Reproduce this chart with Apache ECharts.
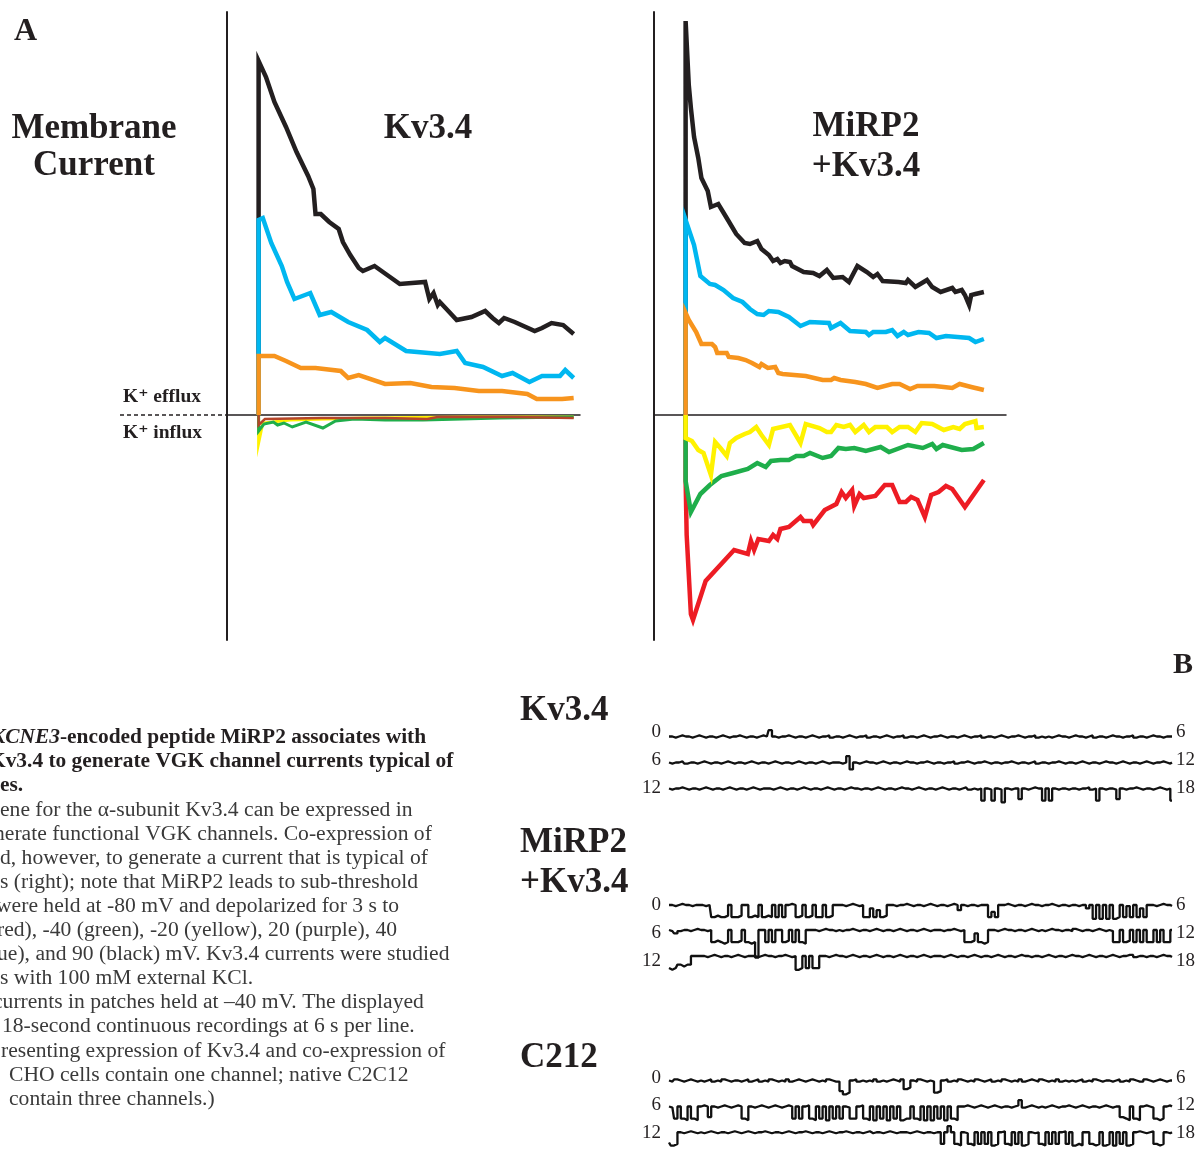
<!DOCTYPE html>
<html>
<head>
<meta charset="utf-8">
<title>MiRP2 / Kv3.4 currents</title>
<script src="https://cdn.jsdelivr.net/npm/echarts@6/dist/echarts.min.js"></script>
<style>
  html, body { margin: 0; padding: 0; background: #fff; }
  #chart { width: 1199px; height: 1150px; }
</style>
</head>
<body>
<div id="chart"></div>
<script>
// ---- panel A : whole-cell currents, [time (s), current (a.u.)] ----
// Kv3.4 alone
var kvBlack = [[0,0],[0,3.54],[0.07,3.38],[0.15,3.13],[0.26,2.88],[0.36,2.63],[0.47,2.39],[0.52,2.26],[0.54,2.01],[0.59,2.01],[0.67,1.93],[0.76,1.86],[0.80,1.73],[0.87,1.60],[0.95,1.47],[0.99,1.44],[1.10,1.49],[1.22,1.40],[1.34,1.31],[1.58,1.33],[1.62,1.16],[1.66,1.22],[1.70,1.10],[1.72,1.13],[1.80,1.04],[1.88,0.95],[2.02,0.98],[2.15,1.04],[2.22,0.97],[2.28,0.92],[2.33,0.97],[2.43,0.93],[2.62,0.84],[2.69,0.87],[2.78,0.92],[2.89,0.90],[2.99,0.81]];
var kvBlue = [[0,0],[0,1.95],[0.04,1.97],[0.12,1.72],[0.22,1.49],[0.27,1.33],[0.34,1.16],[0.49,1.22],[0.58,1.00],[0.69,1.03],[0.85,0.93],[1.03,0.85],[1.15,0.73],[1.20,0.77],[1.40,0.64],[1.72,0.61],[1.88,0.64],[1.96,0.52],[2.13,0.48],[2.31,0.39],[2.41,0.42],[2.57,0.33],[2.69,0.39],[2.86,0.39],[2.91,0.45],[2.99,0.37]];
var kvOrange = [[0,0],[0,0.59],[0.15,0.59],[0.26,0.54],[0.40,0.47],[0.54,0.47],[0.78,0.44],[0.85,0.37],[0.95,0.40],[1.20,0.31],[1.44,0.32],[1.64,0.28],[1.86,0.27],[2.09,0.24],[2.31,0.24],[2.55,0.21],[2.64,0.16],[2.88,0.16],[2.99,0.17]];
var kvYellow = [[0,0],[0,-0.28],[0.04,-0.08],[0.3,-0.05],[1.0,-0.03],[2.0,-0.02],[2.99,-0.02]];
var kvGreen = [[0,0],[0,-0.16],[0.05,-0.09],[0.14,-0.07],[0.18,-0.10],[0.24,-0.08],[0.32,-0.12],[0.45,-0.07],[0.61,-0.13],[0.73,-0.06],[0.91,-0.04],[1.20,-0.05],[1.56,-0.05],[1.93,-0.04],[2.29,-0.03],[2.99,-0.02]];
var kvRed = [[0,0],[0,-0.10],[0.06,-0.04],[0.6,-0.03],[1.2,-0.03],[1.6,-0.04],[1.7,-0.02],[2.4,-0.02],[2.99,-0.03]];

// MiRP2 + Kv3.4
var mBlack = [[0,0],[0,3.94],[0.03,3.30],[0.05,3.07],[0.08,2.78],[0.12,2.57],[0.15,2.37],[0.21,2.24],[0.24,2.08],[0.31,2.11],[0.39,1.97],[0.48,1.81],[0.56,1.72],[0.61,1.71],[0.68,1.74],[0.72,1.66],[0.79,1.60],[0.83,1.54],[0.87,1.56],[0.90,1.52],[0.94,1.54],[0.99,1.53],[1.01,1.49],[1.12,1.43],[1.21,1.42],[1.27,1.39],[1.34,1.45],[1.40,1.37],[1.49,1.38],[1.55,1.33],[1.63,1.49],[1.72,1.43],[1.78,1.38],[1.82,1.41],[1.87,1.34],[2.02,1.33],[2.09,1.32],[2.11,1.35],[2.18,1.28],[2.29,1.35],[2.34,1.28],[2.42,1.23],[2.53,1.27],[2.56,1.23],[2.62,1.25],[2.65,1.20],[2.69,1.10],[2.71,1.20],[2.75,1.21],[2.83,1.23]];
var mBlue = [[0,0],[0,1.95],[0.08,1.70],[0.14,1.39],[0.23,1.31],[0.28,1.30],[0.36,1.25],[0.45,1.17],[0.54,1.13],[0.61,1.06],[0.68,1.01],[0.74,1.00],[0.79,1.04],[0.88,1.03],[0.98,0.98],[1.09,0.89],[1.18,0.93],[1.36,0.92],[1.38,0.87],[1.47,0.92],[1.56,0.84],[1.71,0.83],[1.74,0.80],[1.78,0.83],[1.90,0.83],[1.96,0.85],[2.01,0.79],[2.07,0.83],[2.11,0.80],[2.21,0.83],[2.31,0.82],[2.38,0.77],[2.47,0.79],[2.58,0.78],[2.69,0.77],[2.75,0.73],[2.83,0.76]];
var mOrange = [[0,0],[0,1.02],[0.03,0.95],[0.10,0.83],[0.15,0.71],[0.25,0.71],[0.28,0.68],[0.30,0.62],[0.39,0.62],[0.41,0.58],[0.50,0.57],[0.57,0.55],[0.63,0.52],[0.70,0.48],[0.72,0.51],[0.78,0.47],[0.85,0.48],[0.88,0.42],[0.92,0.41],[1.14,0.39],[1.30,0.35],[1.38,0.35],[1.41,0.37],[1.47,0.35],[1.61,0.33],[1.71,0.31],[1.82,0.27],[1.96,0.31],[2.03,0.31],[2.13,0.26],[2.20,0.29],[2.36,0.29],[2.45,0.28],[2.53,0.27],[2.60,0.31],[2.71,0.28],[2.83,0.25]];
var mYellow = [[0,0],[0,-0.23],[0.06,-0.26],[0.12,-0.35],[0.17,-0.38],[0.24,-0.60],[0.28,-0.27],[0.33,-0.33],[0.39,-0.41],[0.42,-0.28],[0.48,-0.23],[0.56,-0.19],[0.61,-0.17],[0.67,-0.12],[0.72,-0.20],[0.79,-0.30],[0.83,-0.14],[0.99,-0.10],[1.09,-0.28],[1.14,-0.09],[1.27,-0.13],[1.34,-0.17],[1.38,-0.17],[1.43,-0.10],[1.50,-0.12],[1.56,-0.10],[1.61,-0.17],[1.69,-0.10],[1.74,-0.17],[1.80,-0.12],[1.91,-0.12],[1.96,-0.17],[2.03,-0.12],[2.11,-0.12],[2.18,-0.17],[2.24,-0.08],[2.34,-0.09],[2.45,-0.15],[2.54,-0.12],[2.60,-0.14],[2.65,-0.09],[2.75,-0.06],[2.76,-0.13],[2.83,-0.12]];
var mGreen = [[0,0],[0,-0.66],[0.05,-0.97],[0.14,-0.79],[0.23,-0.70],[0.34,-0.61],[0.45,-0.58],[0.59,-0.54],[0.68,-0.48],[0.76,-0.52],[0.81,-0.46],[0.90,-0.45],[0.98,-0.45],[1.05,-0.41],[1.12,-0.41],[1.18,-0.38],[1.30,-0.43],[1.38,-0.41],[1.45,-0.33],[1.52,-0.34],[1.60,-0.33],[1.71,-0.36],[1.85,-0.32],[1.93,-0.37],[2.11,-0.30],[2.25,-0.33],[2.34,-0.29],[2.38,-0.34],[2.44,-0.30],[2.62,-0.35],[2.73,-0.34],[2.83,-0.28]];
var mRed = [[0,0],[0,-0.65],[0.01,-1.20],[0.05,-1.99],[0.07,-2.05],[0.19,-1.66],[0.46,-1.35],[0.59,-1.39],[0.62,-1.26],[0.65,-1.35],[0.69,-1.24],[0.79,-1.26],[0.83,-1.20],[0.87,-1.24],[0.90,-1.14],[0.98,-1.12],[1.09,-1.02],[1.12,-1.06],[1.19,-1.06],[1.21,-1.10],[1.32,-0.95],[1.43,-0.89],[1.48,-0.77],[1.52,-0.83],[1.58,-0.75],[1.60,-0.91],[1.65,-0.79],[1.69,-0.83],[1.80,-0.81],[1.89,-0.70],[1.96,-0.70],[2.03,-0.87],[2.09,-0.87],[2.14,-0.82],[2.20,-0.85],[2.27,-1.02],[2.33,-0.80],[2.40,-0.77],[2.47,-0.71],[2.53,-0.74],[2.65,-0.92],[2.83,-0.65]];

// ---- panel B : single-channel records, 150 samples per 6 s line ----
// level codes: 1 = closed, 8 = open, 0/2 = noise around closed, x/u = spikes
var kvTraces = [
  '1121011210 1211210121 1012112101 u121101211 2101211021 1210121102 1121012110 2112101211 0121121012 1102112101 2110121102 1212101121 0112102112 1011211021 1210112111',
  '1211021121 0121121012 1121012112 1012112101 2112101211 121u512101 1210121121 0112110121 1211021101 2110121121 1012112102 1121101211 2101211210 1121012112 1012110121',
  '1211012112 1012112101 2112101211 1210121121 0121121012 1121011211 2101211210 1121012112 1012112102 1218128129 1211712101 1818121121 1211021812 1127121101 2112101218'
];
var mirpTraces = [
  '1121011211 1218788718 8711878187 8181810187 1871881871 1121012188 3848711211 0121121012 1121014121 1211185811 0121121011 2110121121 1211319191 9198182818 3811210112',
  '1232112101 1218789818 871898x118 1811871818 9111210112 1211012112 1012112101 2112101211 1211012188 7389811210 1121121012 1210112112 0121121012 1288187181 8188181881',
  '8986766111 1210121121 0121112101 1211012198 1818811210 1121012112 1012112101 2112101211 1210121121 0121121012 1121011211 2101211210 1121012112 1012110021 1211210112'
];
var c212Traces = [
  '1201210121 2102120121 1210210212 0121202101 2101212012 2798102121 2021210120 6512012128 7102120121 2012102120 1212021012 0121202121 2102120121 1210212012 2012101211',
  '1281891891 0171210121 0189121012 1012101818 1089181918 1812881089 1918191819 8818919191 8191891101 2101210121 1210u21012 1210121101 2101211210 1211789189 1012898101',
  '7981210121 2101211210 1210121101 2112101211 0121121012 1101211210 2112101211 1210121121 181u189128 9181819810 8918198121 8918181081 9891189819 8191819810 1210898121'
];
var lineStartLabels = ['0', '6', '12'];
var lineEndLabels = ['6', '12', '18'];

var captionLines = [
  '{i|KCNE3}-encoded peptide MiRP2 associates with',
  'Kv3.4 to generate VGK channel currents typical of',
  'es.',
  'ene for the α-subunit Kv3.4 can be expressed in',
  'nerate functional VGK channels. Co-expression of',
  'd, however, to generate a current that is typical of',
  's (right); note that MiRP2 leads to sub-threshold',
  'were held at -80 mV and depolarized for 3 s to',
  'red), -40 (green), -20 (yellow), 20 (purple), 40',
  'ue), and 90 (black) mV. Kv3.4 currents were studied',
  's with 100 mM external KCl.',
  'currents in patches held at –40 mV. The displayed',
  '18-second continuous recordings at 6 s per line.',
  'resenting expression of Kv3.4 and co-expression of',
  'CHO cells contain one channel; native C2C12',
  'contain three channels.)'
];
var captionShift = [-9, -11, 0, 0, -6, 0, 0, -4, -3, -3, 0, -7, 2, 1, 9, 9];

// code -> current level (unitary amplitude ~1.05)
var LEVELS = {'0': 0.09, '1': 0, '2': -0.09, '3': -0.3, '4': -0.45, '5': -0.6, '6': -0.75,
              '7': -0.92, '8': -1.05, '9': -1.2, 'x': -2.4, 'u': 0.55};
function parseTrace(str) {
  var s = str.replace(/ /g, '');
  var n = s.length;
  return s.split('').map(function (c, i) { return [i * 6 / (n - 1), LEVELS[c]]; });
}

var INK = '#231f20';
var SERIF = '"Liberation Serif", "DejaVu Serif", serif';

var chart = echarts.init(document.getElementById('chart'));

var grids = [
  { left: 227, top: 12, width: 353, height: 628 },
  { left: 654, top: 12, width: 352, height: 628 }
];
var xAxes = [], yAxes = [], series = [];

[3.05, 3.04].forEach(function (mx, gi) {
  xAxes.push({
    gridIndex: gi, type: 'value', min: -0.3, max: mx,
    axisLine: { show: true, onZero: true, lineStyle: { color: INK, width: 1.5 } },
    axisTick: { show: false }, axisLabel: { show: false }, splitLine: { show: false }
  });
  yAxes.push({
    gridIndex: gi, type: 'value', min: -2.25, max: 4.03,
    axisLine: { show: true, onZero: false, lineStyle: { color: INK, width: 2 } },
    axisTick: { show: false }, axisLabel: { show: false }, splitLine: { show: false }
  });
});

function aLine(data, color, gi, width) {
  return {
    type: 'line', xAxisIndex: gi, yAxisIndex: gi, data: data, symbol: 'none',
    clip: false, silent: true,
    lineStyle: { color: color, width: width || 4.5, join: 'miter' }
  };
}
series.push(aLine(kvBlack, INK, 0));
series.push(aLine(kvBlue, '#00b7f0', 0));
series.push(aLine(kvOrange, '#f7941d', 0));
series.push(aLine(kvYellow, '#fff200', 0, 3));
series.push(aLine(kvGreen, '#1fae4b', 0, 3));
series.push(aLine(kvRed, '#b5452a', 0, 2.5));

series.push(aLine(mBlack, INK, 1));
series.push(aLine(mBlue, '#00b7f0', 1));
series.push(aLine(mOrange, '#f7941d', 1));
series.push(aLine(mRed, '#ed1c24', 1));
series.push(aLine(mGreen, '#1fae4b', 1));
series.push(aLine(mYellow, '#fff200', 1));

// single-channel lines
var traceBase = [736.5, 762.5, 788.5, 905, 930, 956, 1080.5, 1106.5, 1132.5];
var allTraces = kvTraces.concat(mirpTraces, c212Traces);
allTraces.forEach(function (str, k) {
  var gi = grids.length;
  grids.push({ left: 669, top: traceBase[k] - 6.9, width: 503, height: 25.3 });
  xAxes.push({ gridIndex: gi, type: 'value', min: 0, max: 6, show: false });
  yAxes.push({ gridIndex: gi, type: 'value', min: -1.6, max: 0.6, show: false });
  series.push({
    type: 'line', xAxisIndex: gi, yAxisIndex: gi, data: parseTrace(str),
    symbol: 'none', step: 'middle', clip: false, silent: true,
    lineStyle: { color: '#111111', width: 2.3 }
  });
});

function txt(x, y, text, font, align, fill) {
  return {
    type: 'text', silent: true,
    style: {
      x: x, y: y, text: text, font: font, fill: fill || INK,
      textAlign: align || 'left', textVerticalAlign: 'middle'
    }
  };
}

var graphics = [
  txt(14, 32, 'A', 'bold 32px ' + SERIF),
  txt(94, 129, 'Membrane', 'bold 35px ' + SERIF, 'center'),
  txt(94, 166, 'Current', 'bold 35px ' + SERIF, 'center'),
  txt(428, 129, 'Kv3.4', 'bold 35px ' + SERIF, 'center'),
  txt(866, 127, 'MiRP2', 'bold 35px ' + SERIF, 'center'),
  txt(866, 167, '+Kv3.4', 'bold 35px ' + SERIF, 'center'),
  txt(123, 397, 'K⁺ efflux', 'bold 19.5px ' + SERIF),
  txt(123, 433, 'K⁺ influx', 'bold 19.5px ' + SERIF),
  {
    type: 'line', silent: true,
    shape: { x1: 120, y1: 415, x2: 227, y2: 415 },
    style: { stroke: INK, lineWidth: 1.5, lineDash: [4, 3] }
  },
  txt(1183, 665, 'B', 'bold 30px ' + SERIF, 'center'),
  txt(520, 711, 'Kv3.4', 'bold 35px ' + SERIF),
  txt(520, 843, 'MiRP2', 'bold 35px ' + SERIF),
  txt(520, 883, '+Kv3.4', 'bold 35px ' + SERIF),
  txt(520, 1058, 'C212', 'bold 35px ' + SERIF)
];

var labelRows = [[732, 760, 788], [905, 933, 961], [1078, 1105, 1133]];
labelRows.forEach(function (rows) {
  rows.forEach(function (y, j) {
    graphics.push(txt(661, y, lineStartLabels[j], '19px ' + SERIF, 'right'));
    graphics.push(txt(1176, y, lineEndLabels[j], '19px ' + SERIF, 'left'));
  });
});

captionLines.forEach(function (line, k) {
  var bold = k < 3;
  graphics.push({
    type: 'text', silent: true,
    x: captionShift[k], y: 738 + k * 24.1,
    scaleX: bold ? 1.07 : 1.08,
    style: {
      x: 0, y: 0, text: line,
      font: (bold ? 'bold ' : '') + '20px ' + SERIF,
      fill: bold ? INK : '#3a3a3a',
      textAlign: 'left', textVerticalAlign: 'middle',
      rich: { i: { fontStyle: 'italic', fontWeight: 'bold', fontSize: 20, fontFamily: SERIF, fill: INK } }
    }
  });
});

chart.setOption({
  backgroundColor: '#ffffff',
  animation: false,
  grid: grids,
  xAxis: xAxes,
  yAxis: yAxes,
  series: series,
  graphic: graphics
});
</script>
</body>
</html>
